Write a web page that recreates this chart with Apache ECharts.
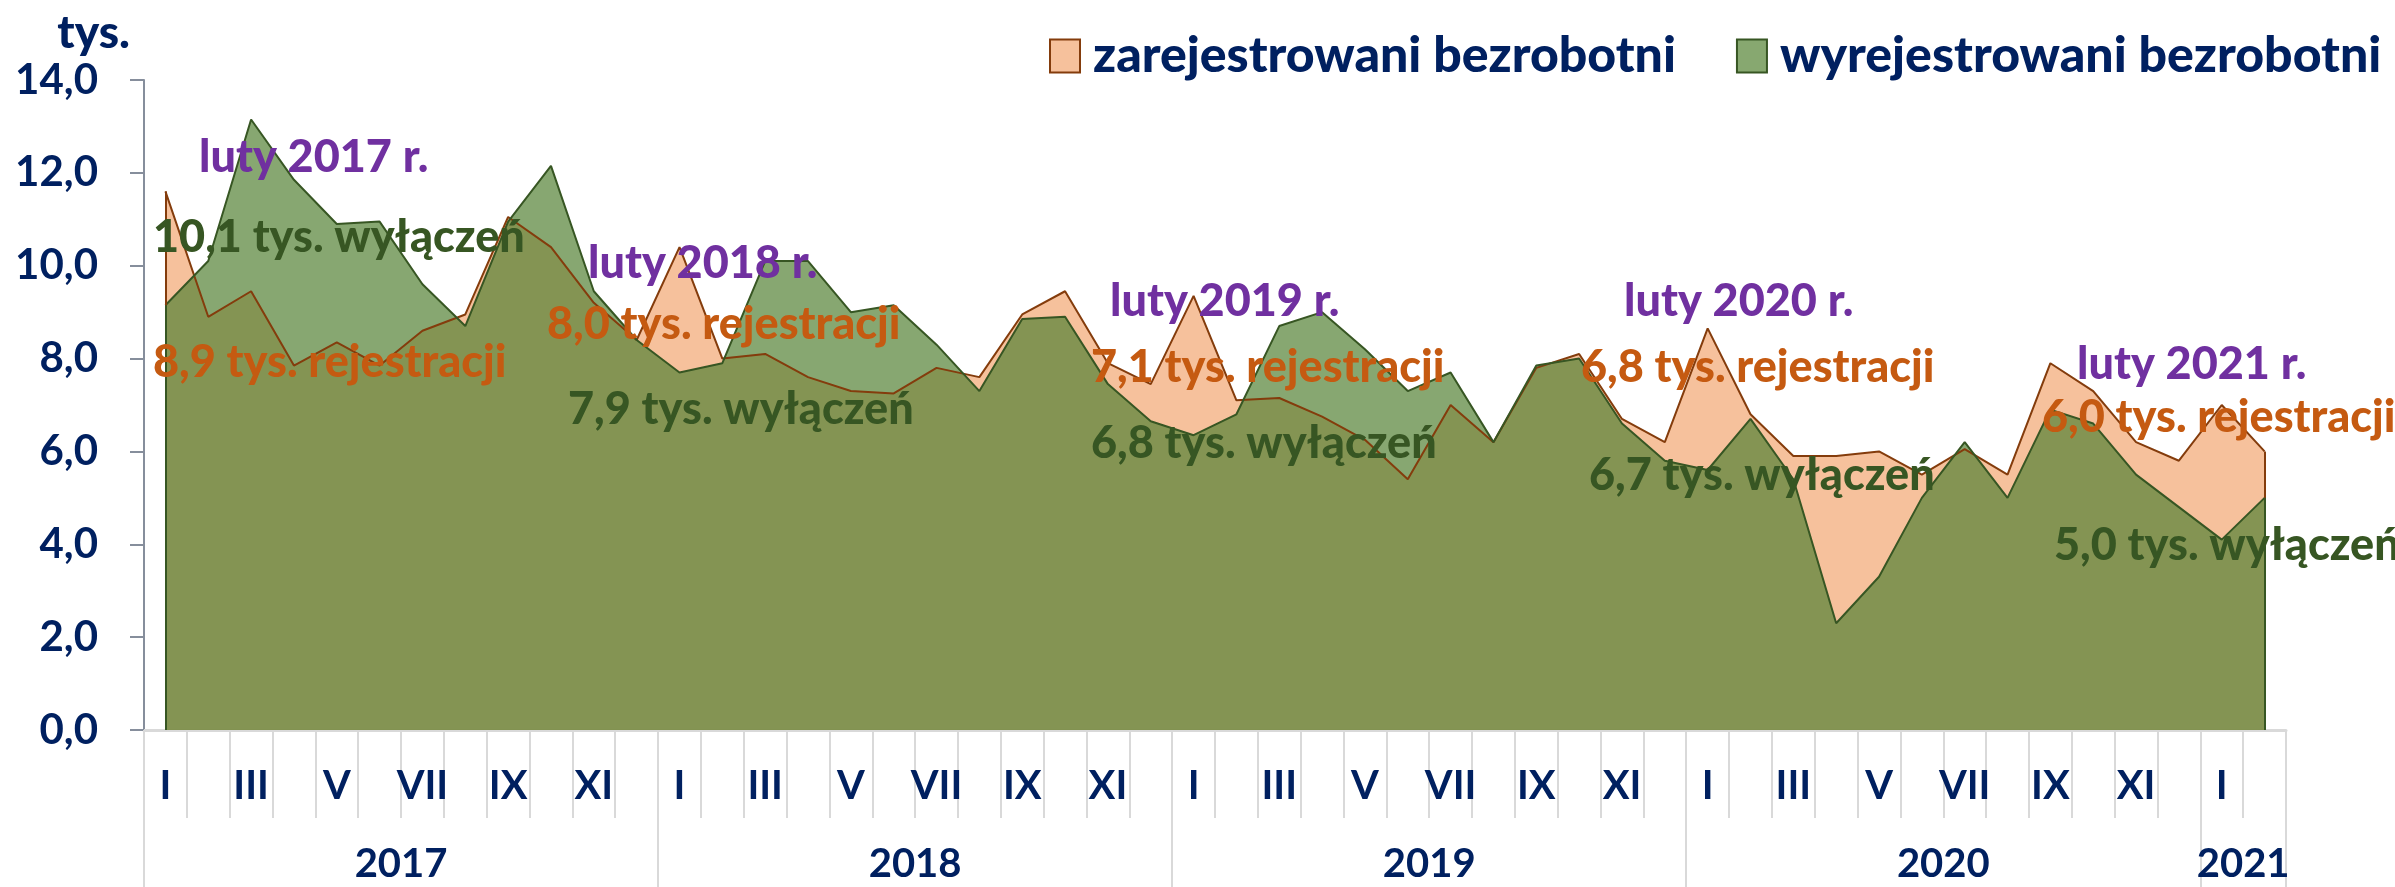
<!DOCTYPE html>
<html>
<head>
<meta charset="utf-8">
<script src="https://cdn.jsdelivr.net/npm/echarts@6/dist/echarts.min.js"></script>
<style>
  html, body { margin: 0; padding: 0; background: #fff; }
  #chart { width: 2395px; height: 887px; }
</style>
</head>
<body>
<div id="chart"></div>
<script>
const months = ["I", "II", "III", "IV", "V", "VI", "VII", "VIII", "IX", "X", "XI", "XII"];
const years = ["2017", "2018", "2019", "2020", "2021"];
const monthsInLastYear = 2;

// thousands of people, month by month I 2017 - II 2021
const zarejestrowani = [
  11.6, 8.9, 9.45, 7.85, 8.35, 7.85, 8.6, 8.95, 11.05, 10.4, 9.2, 8.4,
  10.4, 8.0, 8.1, 7.6, 7.3, 7.25, 7.8, 7.6, 8.95, 9.45, 7.9, 7.45,
  9.35, 7.1, 7.15, 6.75, 6.25, 5.4, 7.0, 6.2, 7.8, 8.1, 6.7, 6.2,
  8.65, 6.8, 5.9, 5.9, 6.0, 5.5, 6.05, 5.5, 7.9, 7.3, 6.2, 5.8,
  7.0, 6.0
];
const wyrejestrowani = [
  9.15, 10.1, 13.15, 11.85, 10.9, 10.95, 9.6, 8.7, 10.95, 12.15, 9.45, 8.4,
  7.7, 7.9, 10.1, 10.1, 9.0, 9.15, 8.3, 7.3, 8.85, 8.9, 7.45, 6.65,
  6.35, 6.8, 8.7, 9.0, 8.2, 7.3, 7.7, 6.2, 7.85, 8.0, 6.6, 5.8,
  5.6, 6.7, 5.4, 2.3, 3.3, 5.0, 6.2, 5.0, 6.9, 6.6, 5.5, 4.8,
  4.1, 5.0
];

const categories = [];
years.forEach((y, i) => {
  const n = i === years.length - 1 ? monthsInLastYear : months.length;
  for (let m = 0; m < n; m++) categories.push(months[m]);
});
const yearStarts = years.map((y, i) => i * 12);
const yearBounds = yearStarts.concat([categories.length]);
const yearCenters = years.map((y, i) => (yearBounds[i] + yearBounds[i + 1]) / 2);
const last = categories.length - 1;

const fmt = (v) => v.toFixed(1).replace(".", ",");
const navy = "#002060";
const font = "Lato";

// where the February notes sit (pixels): [luty, rejestracje, wyłączenia]
const notePos = [
  [[199, 157], [153, 362], [153, 237]],
  [[588, 263], [547, 324], [568, 409]],
  [[1110, 301], [1091, 367], [1091, 443]],
  [[1624, 301], [1581, 367], [1589, 475]],
  [[2077, 364], [2042, 417], [2054, 545]]
];

const graphics = [{
  type: "text", x: 130, y: 33,
  style: { text: "tys.", fill: navy, font: "900 46px " + font, align: "right", verticalAlign: "middle" }
}];
years.forEach((y, i) => {
  const feb = yearStarts[i] + 1;
  const items = [
    ["luty " + y + " r.", "#7030A0"],
    [fmt(zarejestrowani[feb]) + " tys. rejestracji", "#C55A11"],
    [fmt(wyrejestrowani[feb]) + " tys. wyłączeń", "#375623"]
  ];
  items.forEach((it, k) => {
    graphics.push({
      type: "text", x: notePos[i][k][0], y: notePos[i][k][1], z: 10,
      style: { text: it[0], fill: it[1], font: "900 45px " + font, verticalAlign: "middle" }
    });
  });
});

// closing vertical edges of the areas, like the original
function edges(values) {
  return [
    [{ coord: [0, 0] }, { coord: [0, values[0]] }],
    [{ coord: [last, 0] }, { coord: [last, values[last]] }]
  ];
}

const chart = echarts.init(document.getElementById("chart"));
chart.setOption({
  animation: false,
  grid: { left: 144, right: 109, top: 80, bottom: 157 },
  legend: {
    left: 1044, top: 26,
    icon: "rect", itemWidth: 30, itemHeight: 33, itemGap: 60,
    textStyle: { color: navy, fontFamily: font, fontWeight: 900, fontSize: 50, padding: [0, 0, 0, 8] },
    data: [
      { name: "zarejestrowani bezrobotni", itemStyle: { color: "#F6C19C", borderColor: "#843C0C", borderWidth: 2 } },
      { name: "wyrejestrowani bezrobotni", itemStyle: { color: "#87A870", borderColor: "#375623", borderWidth: 2 } }
    ]
  },
  xAxis: [
    {
      type: "category",
      data: categories,
      boundaryGap: true,
      axisLine: { lineStyle: { color: "#D9D9D9", width: 3 } },
      axisTick: { show: true, interval: 0, length: 88, lineStyle: { color: "#D9D9D9", width: 2 } },
      axisLabel: { interval: 1, margin: 36, color: navy, fontFamily: font, fontWeight: "bold", fontSize: 40 }
    },
    {
      type: "value",
      min: 0, max: categories.length,
      position: "bottom", offset: 0,
      axisLine: { show: false, onZero: false },
      splitLine: { show: false },
      axisTick: { show: true, customValues: yearBounds, length: 157, lineStyle: { color: "#D9D9D9", width: 2 } },
      axisLabel: {
        customValues: yearCenters, margin: 114,
        color: navy, fontFamily: font, fontWeight: "bold", fontSize: 40,
        formatter: (v) => years[yearCenters.indexOf(v)]
      }
    }
  ],
  yAxis: {
    type: "value",
    min: 0, max: 14, interval: 2,
    axisLine: { show: true, lineStyle: { color: "#868E9C", width: 2 } },
    axisTick: { show: true, length: 14, lineStyle: { color: "#868E9C", width: 2 } },
    splitLine: { show: false },
    axisLabel: { margin: 46, color: navy, fontFamily: font, fontWeight: "bold", fontSize: 42, formatter: fmt }
  },
  series: [
    {
      name: "zarejestrowani bezrobotni",
      type: "line",
      data: zarejestrowani,
      symbol: "none",
      lineStyle: { color: "#843C0C", width: 2 },
      itemStyle: { color: "#F6C19C" },
      areaStyle: { color: "#F4B183", opacity: 0.8 },
      markLine: {
        silent: true, symbol: "none", label: { show: false },
        lineStyle: { color: "#843C0C", width: 2, type: "solid" },
        data: edges(zarejestrowani)
      }
    },
    {
      name: "wyrejestrowani bezrobotni",
      type: "line",
      data: wyrejestrowani,
      symbol: "none",
      lineStyle: { color: "#375623", width: 2 },
      itemStyle: { color: "#87A870" },
      areaStyle: { color: "#548235", opacity: 0.7 },
      markLine: {
        silent: true, symbol: "none", label: { show: false },
        lineStyle: { color: "#375623", width: 2, type: "solid" },
        data: edges(wyrejestrowani)
      }
    }
  ],
  graphic: graphics
});
</script>
</body>
</html>
